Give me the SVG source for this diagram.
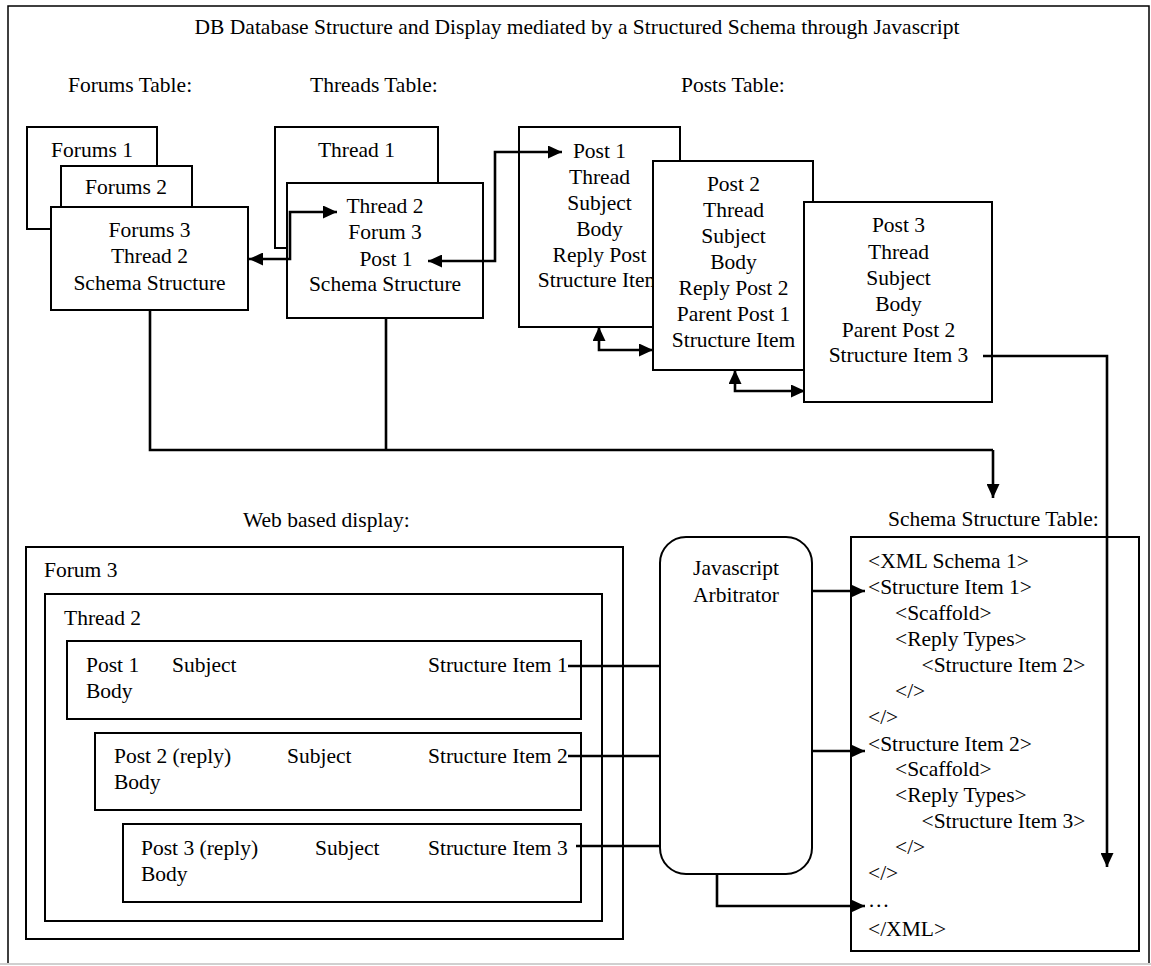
<svg xmlns="http://www.w3.org/2000/svg" width="1151" height="966" viewBox="0 0 1151 966">
<defs>
<marker id="ah" markerUnits="userSpaceOnUse" markerWidth="15" markerHeight="13" refX="14" refY="6.5" orient="auto-start-reverse">
<path d="M0,0 L14,6.5 L0,13 z" fill="#000"/>
</marker>
<style>
text{font-family:"Liberation Serif","Times New Roman",serif;font-size:21.5px;fill:#000}
.c{text-anchor:middle}
.box{fill:#fff;stroke:#000;stroke-width:2}
.ln{fill:none;stroke:#000;stroke-width:2.6}
.arr{fill:none;stroke:#000;stroke-width:2.6;marker-end:url(#ah)}
.arr2{fill:none;stroke:#000;stroke-width:2.6;marker-start:url(#ah);marker-end:url(#ah)}
</style>
</defs>
<rect width="1151" height="966" fill="#fff"/>
<g id="frame">
<path d="M8,964 V6 H1149 V964" fill="none" stroke="#000" stroke-width="1.5"/>
<line x1="0" y1="964" x2="1151" y2="964" stroke="#d0d0d0" stroke-width="2"/>
</g>
<g id="labels">
<text class="c" x="577" y="34">DB Database Structure and Display mediated by a Structured Schema through Javascript</text>
<text x="68" y="92">Forums Table:</text>
<text x="310" y="92">Threads Table:</text>
<text x="681" y="92">Posts Table:</text>
<text x="243" y="527">Web based display:</text>
<text x="888" y="526">Schema Structure Table:</text>
</g>
<g id="forums1"><rect class="box" x="27" y="127" width="130" height="102"/><text class="c" x="92" y="157">Forums 1</text></g>
<g id="forums2"><rect class="box" x="61" y="166" width="131" height="60"/><text class="c" x="126" y="194">Forums 2</text></g>
<g id="forums3"><rect class="box" x="51" y="207" width="197" height="103"/>
<text class="c" x="149.5" y="237">Forums 3</text><text class="c" x="149.5" y="263">Thread 2</text><text class="c" x="149.5" y="290">Schema Structure</text></g>
<g id="thread1"><rect class="box" x="275" y="127" width="163" height="121"/><text class="c" x="356.5" y="157">Thread 1</text></g>
<g id="thread2"><rect class="box" x="287" y="183" width="196" height="135"/>
<text class="c" x="385" y="213">Thread 2</text><text class="c" x="385" y="239">Forum 3</text><text class="c" x="386" y="265.5">Post 1</text><text class="c" x="385" y="291">Schema Structure</text></g>
<g id="post1"><rect class="box" x="519" y="127" width="161" height="200"/>
<text class="c" x="599.5" y="157.5">Post 1</text><text class="c" x="599.5" y="183.5">Thread</text><text class="c" x="599.5" y="209.5">Subject</text><text class="c" x="599.5" y="235.5">Body</text><text class="c" x="599.5" y="261.5">Reply Post</text><text class="c" x="599.5" y="287">Structure Item</text></g>
<g id="post2"><rect class="box" x="653" y="161" width="160" height="209"/>
<text class="c" x="733.5" y="191">Post 2</text><text class="c" x="733.5" y="217">Thread</text><text class="c" x="733.5" y="243">Subject</text><text class="c" x="733.5" y="268.5">Body</text><text class="c" x="733.5" y="294.5">Reply Post 2</text><text class="c" x="733.5" y="320.5">Parent Post 1</text><text class="c" x="733.5" y="346.5">Structure Item</text></g>
<g id="post3"><rect class="box" x="804" y="202" width="188" height="200"/>
<text class="c" x="898.5" y="232">Post 3</text><text class="c" x="898.5" y="258.5">Thread</text><text class="c" x="898.5" y="284.5">Subject</text><text class="c" x="898.5" y="310.5">Body</text><text class="c" x="898.5" y="336.5">Parent Post 2</text><text class="c" x="898.5" y="362">Structure Item 3</text></g>
<g id="display-forum"><rect class="box" x="26" y="547" width="597" height="392"/><text x="44" y="577">Forum 3</text></g>
<g id="display-thread"><rect class="box" x="45" y="594" width="557" height="327"/><text x="64" y="625">Thread 2</text></g>
<g id="display-post1"><rect class="box" x="67" y="641" width="514" height="78"/>
<text x="86" y="672">Post 1</text><text x="172" y="672">Subject</text><text x="428" y="672">Structure Item 1</text><text x="86" y="698">Body</text></g>
<g id="display-post2"><rect class="box" x="95" y="733" width="486" height="77"/>
<text x="114" y="763">Post 2 (reply)</text><text x="287" y="763">Subject</text><text x="428" y="763">Structure Item 2</text><text x="114" y="789">Body</text></g>
<g id="display-post3"><rect class="box" x="123" y="824" width="458" height="78"/>
<text x="141" y="855">Post 3 (reply)</text><text x="315" y="855">Subject</text><text x="428" y="855">Structure Item 3</text><text x="141" y="881">Body</text></g>
<g id="arbitrator"><rect class="box" x="660" y="537" width="152" height="337" rx="26" ry="26"/>
<text class="c" x="736" y="575">Javascript</text><text class="c" x="736" y="601.5">Arbitrator</text></g>
<g id="schema-table"><rect class="box" x="851" y="537" width="288" height="414"/>
<text x="868" y="568">&lt;XML Schema 1&gt;</text>
<text x="868" y="594">&lt;Structure Item 1&gt;</text>
<text x="895" y="620">&lt;Scaffold&gt;</text>
<text x="895" y="646">&lt;Reply Types&gt;</text>
<text x="921.5" y="672">&lt;Structure Item 2&gt;</text>
<text x="895" y="698">&lt;/&gt;</text>
<text x="868" y="724">&lt;/&gt;</text>
<text x="868" y="751">&lt;Structure Item 2&gt;</text>
<text x="895" y="776">&lt;Scaffold&gt;</text>
<text x="895" y="802">&lt;Reply Types&gt;</text>
<text x="921.5" y="828">&lt;Structure Item 3&gt;</text>
<text x="895" y="854">&lt;/&gt;</text>
<text x="868" y="880">&lt;/&gt;</text>
<text x="868" y="907">…</text>
<text x="868" y="936">&lt;/XML&gt;</text>
</g>
<g id="connectors">
<path class="arr2" d="M337,212 H290 V259 H249"/>
<path class="arr2" d="M428,261 H495 V152 H562"/>
<path class="arr2" d="M599,327 V350 H653"/>
<path class="arr2" d="M735,370 V391 H805"/>
<path class="ln" d="M150,310 V450 H993"/>
<path class="ln" d="M386,318 V450"/>
<path class="arr" d="M993,450 V498"/>
<path class="arr" d="M983,356 H1107 V867"/>
<path class="ln" d="M568,666 H660"/>
<path class="ln" d="M568,756 H660"/>
<path class="ln" d="M576,846 H660"/>
<path class="arr" d="M812,591 H865"/>
<path class="arr" d="M812,751 H865"/>
<path class="arr" d="M717,874 V906 H865"/>
</g>
</svg>
